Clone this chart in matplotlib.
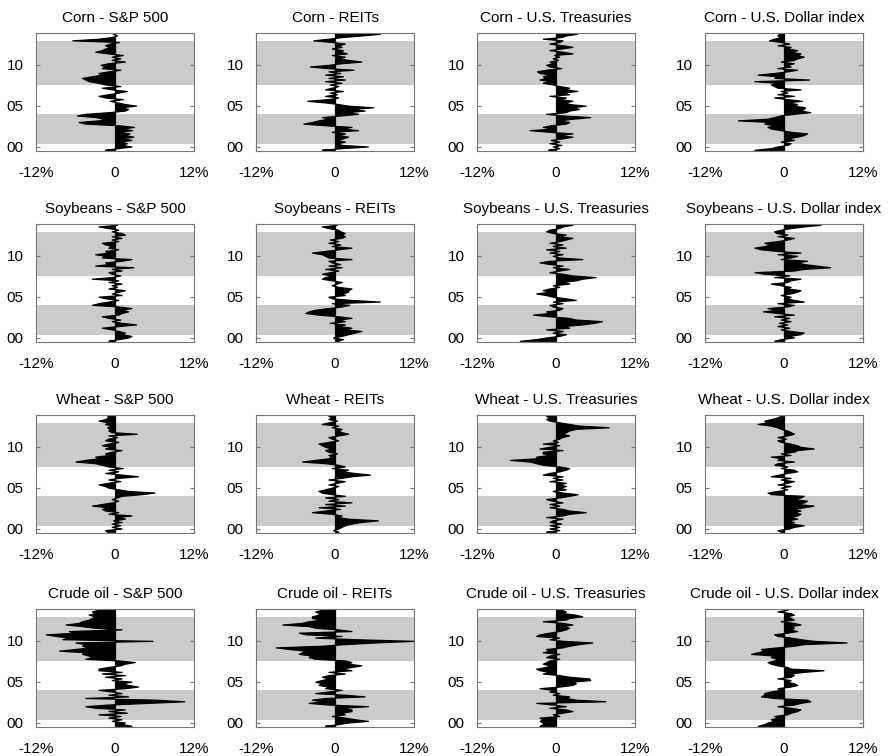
import numpy as np
import matplotlib.pyplot as plt

plt.rcParams['font.family'] = ['Liberation Sans', 'DejaVu Sans']

commodities = ['Corn', 'Soybeans', 'Wheat', 'Crude oil']
assets = ['S&P 500', 'REITs', 'U.S. Treasuries', 'U.S. Dollar index']

# time axis: years since 2000, one value every 0.2 year
years = np.arange(72) * 0.2 - 0.4

# shaded periods (years since 2000)
shaded = [(0.27, 4.03), (7.5, 12.93)]

# values in % (bottom to top)
corn_sp500 = [
    -1.5, 0.5, 2.5, 1.0, 1.8, 0.8, 2.5, 1.2, 2.8, 1.5,
    2.2, 0.6, 2.6, 1.0, 2.9, 0.5, -4.5, -5.5, -2.5, -1.5,
    -3.0, -5.8, -4.5, -1.0, 1.5, 2.0, 0.8, 3.2, 1.5, 0.3,
    -0.8, 1.2, -1.5, -2.5, -1.0, 0.5, 1.8, -0.5, -2.0, 0.8,
    -1.5, -2.5, -4.0, -4.5, -5.0, -3.5, -2.0, -2.5, -1.0, 0.8,
    -2.0, -1.5, -2.2, -1.0, 1.5, -0.5, 0.8, -0.5, 1.2, -1.0,
    -3.0, -2.0, -1.5, -0.8, -1.5, -0.8, 0.6, -6.5, -2.5, -0.5,
    0.3, -0.3]
corn_reits = [
    -2.0, 1.0, 5.0, 1.0, 0.5, 1.5, 0.3, 1.2, 2.0, 0.5,
    1.5, -0.5, 3.5, 1.0, 2.5, -1.5, -4.8, -3.5, -2.5, -1.0,
    -2.0, 0.8, 3.5, 1.8, 4.5, 2.5, 5.8, 2.0, 0.5, -1.5,
    -4.2, -1.0, 0.5, -1.5, 0.3, -0.8, 1.2, -1.5, -0.5, 0.5,
    -0.8, 1.0, -1.5, 1.5, -1.0, 1.2, -1.5, 0.8, -1.0, 2.8,
    -1.2, -3.8, -1.0, 1.0, 4.0, 2.0, 0.5, 1.5, -0.5, 1.8,
    0.8, 1.2, -0.5, 1.0, 0.5, 1.5, -0.5, -3.3, -1.0, 1.0,
    4.0, 6.8]
corn_treas = [
    -1.2, 0.5, -0.5, 0.8, -1.0, 0.5, -0.8, 1.0, 2.5, 0.5,
    2.5, -1.0, -4.0, -0.5, -2.0, -0.8, 1.5, 2.0, 0.5, 2.5,
    5.2, 1.0, -1.5, 1.5, 2.0, 3.5, 2.5, 4.5, 2.0, 1.5,
    2.5, 0.5, 1.5, -1.0, 2.0, 1.0, 3.2, 1.5, 2.0, 0.5,
    -0.5, -2.0, -1.0, -2.5, -1.5, -2.0, -1.0, -2.5, -2.9, -1.5,
    0.8, -1.0, -1.5, -0.5, -1.0, 0.3, -0.5, 0.5, -0.3, 2.5,
    1.0, -1.0, 0.8, 2.5, 1.0, -1.0, 0.5, 1.0, -2.0, 0.8,
    1.5, 3.2]
corn_usd = [
    -4.5, -2.0, -1.0, 0.5, 1.0, -0.5, 1.5, 0.5, 2.0, 3.0,
    3.5, 1.0, -0.5, -2.0, -2.5, -1.5, -3.0, -2.0, -7.0, -2.5,
    -1.5, -0.5, 1.5, 4.0, 2.5, 3.0, 3.2, 1.5, 2.0, 0.5,
    2.7, 0.5, -1.5, 1.5, -1.0, 0.5, -0.5, 2.5, -1.0, -1.5,
    -2.0, -1.0, -4.5, 3.8, -1.5, -1.0, -4.0, -1.5, 0.5, 2.0,
    -1.0, 1.0, 0.5, 1.5, -0.5, 1.5, 2.0, 3.0, 2.0, 2.5,
    1.0, 2.0, 0.5, 1.0, -1.0, 0.8, -0.5, -2.3, -1.5, -0.5,
    -1.0, -0.8]

soy_sp500 = [
    -1.0, 0.5, 2.0, 2.5, 1.0, 1.5, 0.5, -0.5, -2.0, 0.5,
    3.2, 1.0, -0.5, 0.8, -1.0, -2.0, 0.5, 1.0, 2.0, 1.0,
    2.5, 0.5, -3.5, -2.5, -1.0, 0.5, -1.5, -2.5, 1.0, -0.5,
    0.5, 1.5, -1.0, 0.3, -0.5, 1.0, -1.0, 0.5, -3.5, -0.5,
    0.8, -0.5, -1.0, 1.0, -0.5, 2.8, -3.0, -1.0, -1.5, 1.0,
    2.5, -2.0, -1.5, -3.0, -1.0, -1.5, 0.5, -1.0, -0.5, -1.5,
    -2.0, 0.5, -0.5, 1.0, -0.5, 1.5, 1.0, -0.5, 0.5, -1.0,
    -2.5, 0.3]
soy_reits = [
    0.5, 1.2, -0.3, 1.0, 2.0, 3.0, 4.0, 1.5, 2.5, 0.5,
    1.5, -0.8, 1.5, 0.5, 2.5, 0.5, -2.5, -4.5, -4.0, -3.0,
    -1.0, 1.0, 2.2, -0.5, 6.8, 2.5, -0.5, -1.0, 1.5, 1.0,
    2.0, 2.0, 2.5, 0.5, -0.5, 0.3, 1.0, -0.5, -2.0, -1.5,
    -0.5, -2.0, -0.8, 0.5, -1.5, 1.0, -1.0, 0.8, -0.5, -1.0,
    2.5, -1.0, -1.5, -2.0, -3.5, -1.5, 0.5, 2.5, -0.5, 0.8,
    -1.0, 0.5, -0.8, 1.0, 1.5, 1.0, 1.5, 0.8, 0.5, -1.0,
    -2.0, 0.3]
soy_treas = [
    -5.5, -3.0, -1.5, 0.5, 1.5, -0.5, 1.0, -1.5, 2.0, 1.0,
    4.0, 5.8, 7.0, 3.0, 2.0, -1.0, -3.5, -1.0, -1.5, 0.5,
    1.0, -0.5, -1.0, 1.0, -0.5, 3.0, 1.5, -0.5, -1.5, -3.0,
    -1.0, -2.0, -1.0, 0.5, -0.5, 2.0, 1.0, 3.0, 4.0, 6.0,
    2.5, 1.0, -1.0, 0.5, 2.0, -0.5, 1.0, -1.0, -2.5, -1.0,
    4.0, 0.5, -0.5, 1.0, -1.0, 0.5, -1.5, 1.5, -0.5, 1.0,
    -1.0, 0.5, 1.5, 2.5, 0.5, 1.5, -0.5, -1.5, -1.0, 0.5,
    1.0, 2.5]
soy_usd = [
    -1.5, -0.5, 1.5, 0.8, 2.5, 3.0, 1.0, -0.5, 0.8, -1.0,
    0.5, -0.8, 1.0, -0.5, 0.8, -1.5, 1.5, -1.0, -3.2, -1.0,
    -2.5, 0.5, 1.5, -1.0, 3.0, 1.5, 0.5, 1.0, -0.5, 1.0,
    2.0, 2.5, 0.5, 1.0, -0.5, -2.0, 0.5, 1.0, 2.5, -1.5,
    0.8, -3.0, -4.5, 1.5, 3.0, 7.0, 5.0, 3.0, 2.0, 3.5,
    -0.5, 1.0, 2.0, -1.0, 2.5, -1.0, -3.5, -4.5, -3.0, -2.0,
    -3.0, -1.0, 0.5, 1.5, -1.0, 0.5, -1.2, -1.5, -0.5, 1.0,
    3.0, 5.5]

wheat_sp500 = [
    -1.2, -1.5, 1.0, -0.5, 0.8, -0.5, 1.0, -0.3, 1.5, 0.5,
    2.5, -1.0, 0.5, -1.5, -2.0, -1.0, -3.5, -2.0, -0.5, 0.5,
    -0.5, 0.3, 1.0, 4.0, 6.0, 2.0, 0.5, -1.0, -1.5, -2.5,
    -1.0, 0.8, -1.0, 0.5, 3.5, 1.0, -1.5, 0.5, -1.0, 1.2,
    -1.0, -2.0, -3.0, -6.0, -4.5, -2.5, -3.0, -1.0, -1.5, -0.5,
    1.0, -1.5, -0.5, -2.0, -1.0, 0.5, -1.5, -1.0, 0.3, -1.0,
    3.3, -0.5, -1.0, -0.8, -1.2, -0.5, -1.5, -1.0, -2.5, -1.5,
    -1.0, -1.2]
wheat_reits = [
    0.5, -0.3, 0.5, 1.0, 1.5, 2.5, 4.0, 6.5, 2.0, 0.5,
    1.0, -0.5, -3.5, -1.5, 0.8, -2.5, 1.5, -1.5, 2.5, -1.0,
    0.5, -1.5, 1.5, -0.5, -2.0, -2.5, -1.5, -0.5, 0.5, -1.0,
    0.3, 1.5, -1.0, 1.0, 2.5, 5.3, 3.0, 1.0, 2.0, -0.5,
    1.5, 0.5, -1.5, -5.0, -3.0, -1.0, -0.5, -1.0, 0.3, -1.0,
    -1.5, -0.5, -1.5, -2.0, -2.5, -1.0, 0.5, -0.5, -1.0, 0.5,
    2.0, 1.0, 0.5, 1.0, -0.5, 0.5, -2.0, -1.0, 0.3, -1.0,
    -0.5, -1.0]
wheat_treas = [
    -1.5, 0.5, -1.0, 0.5, -1.0, 0.8, -1.0, -0.5, 1.0, -1.5,
    1.0, 2.0, 4.5, 2.0, 1.0, -1.0, 0.5, -1.0, 1.0, -0.5,
    -1.5, 0.5, 2.0, 3.3, 1.0, -0.5, 1.5, 0.5, 1.5, 0.5,
    1.5, -1.0, 1.0, -0.5, 1.0, -2.0, -1.0, 0.5, 1.5, 2.0,
    0.5, -2.0, -3.0, -4.0, -7.0, -3.0, -3.0, -1.0, -2.0, -2.0,
    1.0, -2.5, -1.0, 0.5, -2.0, 0.3, -0.5, 0.5, 1.0, 2.0,
    1.0, 1.5, 2.0, 3.0, 8.0, 3.5, 2.0, 0.5, -1.0, -1.5,
    -1.0, -1.5]
wheat_usd = [
    -0.5, -1.0, 0.8, 1.5, 3.0, 1.0, 1.5, 0.5, 2.0, 1.0,
    2.0, 2.5, 1.5, 2.5, 1.5, 3.0, 4.5, 2.0, 3.0, 3.5,
    1.5, 2.5, 3.0, -2.0, -2.5, -1.0, 0.5, -0.5, 1.0, -1.0,
    0.5, 1.5, -0.5, 1.0, -2.0, -0.8, 0.5, 2.0, 1.5, -0.5,
    0.5, -1.5, -1.0, 1.5, -1.0, -0.5, -2.0, 1.0, -0.5, 1.5,
    2.0, 4.5, 2.5, 2.0, 1.0, -0.5, -1.0, 0.3, -1.0, 0.5,
    1.5, 1.0, 0.5, -0.5, -1.0, -2.0, -4.0, -2.5, -3.0, -2.0,
    -1.0, -0.5]

crude_sp500 = [
    2.5, 1.0, 1.5, -0.5, 1.0, -1.0, 0.8, -2.5, 1.8, -1.0,
    1.5, -3.0, -4.5, -1.0, 5.0, 10.5, 6.0, -4.5, 2.0, -1.0,
    1.0, -0.5, -2.5, 1.5, 3.5, 2.0, 1.0, 2.5, -0.5, 1.0,
    -1.5, 1.5, -2.0, 1.0, -2.5, -2.5, -1.0, 0.8, 1.5, 3.0,
    0.5, -4.5, -3.5, -4.0, -5.0, -4.5, -8.5, -6.0, -4.0, -5.0,
    -4.5, -6.0, 5.7, -8.0, -7.0, -9.0, -10.5, -6.0, -7.0, 1.0,
    -3.0, -5.0, -7.5, -5.5, -5.0, -4.0, -3.5, -3.0, -4.0, -3.0,
    -3.5, -2.5]
crude_reits = [
    -1.5, 0.5, 2.0, 5.0, 3.0, 1.5, -0.5, 1.5, 1.0, 2.5,
    2.5, 1.0, 5.0, -1.0, -4.0, -2.0, -3.5, -1.5, 4.5, 1.5,
    -3.0, -1.0, 1.0, -1.5, -1.0, -2.5, -2.0, -3.0, -2.0, -1.0,
    -2.0, -1.0, 1.5, -1.0, 2.5, 1.0, 2.5, 4.0, 2.0, 2.5,
    1.5, -3.0, -4.0, -3.5, -5.5, -5.0, -4.5, -7.0, -9.0, -2.0,
    1.5, 6.0, 12.0, 3.0, -3.0, 1.0, -4.5, -5.5, 2.5, 0.5,
    -3.0, -4.0, -8.0, -5.0, -4.0, -2.0, -3.5, -3.5, -2.5, -2.5,
    -3.0, -2.0]
crude_treas = [
    -2.5, -2.0, -2.0, -2.5, -2.0, -2.5, 0.5, -0.5, 1.0, 2.5,
    1.5, -1.0, 1.5, -0.5, -3.0, 7.5, 3.0, 1.5, 2.0, -0.5,
    0.5, -1.0, -0.5, -2.5, 0.5, 2.5, 3.0, 2.5, 5.2, 5.0,
    2.0, 0.5, -2.0, -1.0, -2.5, -3.0, -1.5, -1.0, -2.0, -1.5,
    -1.0, 0.5, -1.5, -1.0, 0.5, -2.0, -1.0, -1.5, 1.0, 2.0,
    3.5, 5.5, 1.0, -1.0, 0.5, -3.0, -2.5, -1.0, 0.5, 1.5,
    2.0, 1.0, 2.5, 1.0, -2.0, 1.5, 2.0, 4.0, 3.0, 1.0,
    1.5, 0.8]
crude_usd = [
    -4.0, -3.0, -2.5, -1.5, -2.0, -1.0, -1.5, 0.5, 1.0, 2.0,
    2.5, 1.0, -1.0, 1.5, 2.5, 4.0, 3.5, -1.5, -3.5, -3.0,
    -3.0, -2.0, -0.5, -1.0, 1.0, 2.0, 1.5, 0.5, 1.0, -1.0,
    1.0, 1.5, 1.0, 3.0, 6.0, 1.0, 0.5, -1.0, -2.0, -2.5,
    -1.5, -1.0, -2.0, -1.5, -5.0, -4.0, -3.0, -3.5, -1.0, 1.5,
    3.0, 9.5, 4.5, 2.5, 1.0, -1.0, -1.5, 0.5, 2.0, 1.0,
    1.5, 1.0, 2.5, 1.5, -0.5, 1.5, 1.0, 0.5, 1.5, 1.0,
    -1.0, 0.5]

series = [
    [corn_sp500, corn_reits, corn_treas, corn_usd],
    [soy_sp500, soy_reits, soy_treas, soy_usd],
    [wheat_sp500, wheat_reits, wheat_treas, wheat_usd],
    [crude_sp500, crude_reits, crude_treas, crude_usd],
]

W, H = 893, 756
lefts = [36, 256, 477, 705]
tops = [33, 224, 415, 609]
aw, ah = 158, 118

fig = plt.figure(figsize=(W / 100, H / 100), dpi=100)
for r in range(4):
    for c in range(4):
        ax = fig.add_axes([lefts[c] / W, 1 - (tops[r] + ah) / H, aw / W, ah / H])
        for a, b in shaded:
            ax.axhspan(a, b, color='#cbcbcb', lw=0, zorder=0)
        ax.fill_betweenx(years, 0, series[r][c], color='black', lw=0.9, zorder=2)
        ax.set_xlim(-12, 12)
        ax.set_ylim(-0.55, 13.9)
        ax.set_xticks([-12, 0, 12])
        ax.set_xticklabels(['-12%', '0', '12%'])
        ax.set_yticks([0, 5, 10])
        ax.set_yticklabels(['00', '05', '10'])
        ax.tick_params(direction='in', length=3, top=True, right=True,
                       color='#777777', labelsize=11, pad=9)
        ax.tick_params(axis='x', pad=11)
        for s in ax.spines.values():
            s.set_color('#777777')
            s.set_linewidth(0.8)
        ax.set_title(commodities[r] + ' - ' + assets[c], fontsize=11, pad=8)

plt.savefig('out.png', dpi=100)
plt.close()
